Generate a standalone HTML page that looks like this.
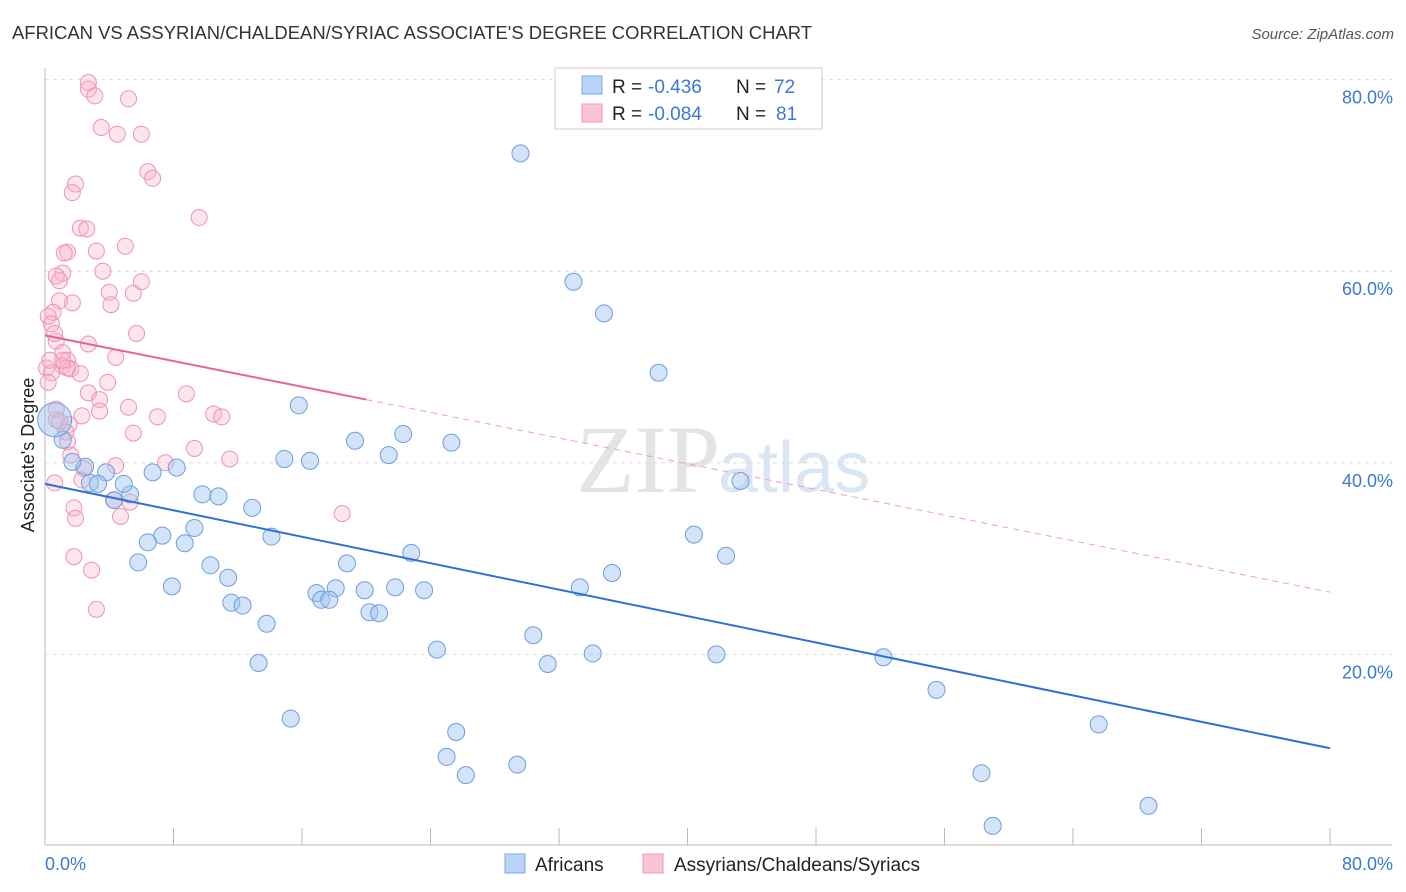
<!DOCTYPE html>
<html><head><meta charset="utf-8">
<style>
body{margin:0;background:#fff;font-family:"Liberation Sans",sans-serif;}
svg{display:block}
</style></head>
<body>
<svg id="chart" width="1406" height="892">
<text x="12" y="39" font-size="18" fill="#333" textLength="800" lengthAdjust="spacingAndGlyphs">AFRICAN VS ASSYRIAN/CHALDEAN/SYRIAC ASSOCIATE'S DEGREE CORRELATION CHART</text>
<text x="1394" y="39" font-size="15" fill="#555" font-style="italic" text-anchor="end">Source: ZipAtlas.com</text>
<text x="720" y="492" font-size="96" fill="#e4e4e4" text-anchor="end" font-family="Liberation Serif">ZIP</text>
<text x="718" y="492" font-size="72" fill="#dbe6f5">atlas</text>
<text transform="translate(34,455) rotate(-90)" font-size="18" fill="#222" text-anchor="middle">Associate's Degree</text>
<g id="grid"></g><g id="axes"></g><g id="pink"></g><g id="blue"></g><g id="lines"></g>
<g>
<rect x="555" y="68" width="267" height="61" fill="#fff" stroke="#ccc"/>
<rect x="582" y="76" width="20" height="18" fill="#b8d3f5" stroke="#7aaae6"/>
<rect x="582" y="104" width="20" height="18" fill="#f9c4d4" stroke="#ee9ab5"/>
<text x="612" y="93" font-size="19" fill="#222">R =</text>
<text x="648" y="93" font-size="19" fill="#3a78d6">-0.436</text>
<text x="736" y="93" font-size="19" fill="#222">N =</text>
<text x="774" y="93" font-size="19" fill="#3a78d6">72</text>
<text x="612" y="120" font-size="19" fill="#222">R =</text>
<text x="648" y="120" font-size="19" fill="#3a78d6">-0.084</text>
<text x="736" y="120" font-size="19" fill="#222">N =</text>
<text x="776" y="120" font-size="19" fill="#3a78d6">81</text>
</g>
<g>
<rect x="505" y="854" width="20" height="19" fill="#b8d3f5" stroke="#7aaae6"/>
<text x="535" y="871" font-size="19" fill="#222">Africans</text>
<rect x="643" y="854" width="20" height="19" fill="#f9c4d4" stroke="#ee9ab5"/>
<text x="674" y="871" font-size="19" fill="#222">Assyrians/Chaldeans/Syriacs</text>
</g>
</svg>
<script>
const yTicks=[20,40,60,80];
const yTickLabels=["20.0%","40.0%","60.0%","80.0%"];
const xTicks=[0,8,16,24,32,40,48,56,64,72,80];
const xEndLabels=["0.0%","80.0%"];
const blueX=[29.6,32.9,34.8,38.2,15.8,43.3,19.3,22.3,25.3,21.4,14.9,16.5,8.2,6.7,9.8,10.8,12.9,4.3,5.3,2.8,4.9,3.8,2.5,1.1,1.2,9.3,7.3,6.4,8.7,14.1,5.8,10.3,11.4,7.9,18.8,22.8,40.4,42.4,35.3,33.3,21.8,23.6,18.1,19.9,16.9,17.2,17.7,11.6,12.3,20.2,20.8,13.8,30.4,24.4,34.1,31.3,41.8,13.3,52.2,55.5,15.3,25.6,65.6,25.0,26.2,29.4,58.3,68.7,59.0,3.3,1.7];
const blueY=[72.3,58.9,55.6,49.4,46.0,38.1,42.3,43.0,42.1,40.8,40.4,40.2,39.5,39.0,36.7,36.5,35.3,36.1,36.7,37.9,37.8,39.0,39.6,42.4,41.1,33.2,32.4,31.7,31.6,32.3,29.6,29.3,28.0,27.1,29.5,30.6,32.5,30.3,28.5,27.0,27.0,26.7,26.9,26.7,26.4,25.7,25.7,25.4,25.1,24.4,24.3,23.2,22.0,20.5,20.1,19.0,20.0,19.1,19.7,16.3,13.3,11.9,12.7,9.3,7.4,8.5,7.6,4.2,2.1,37.8,40.1];
const pinkX=[2.7,2.7,3.1,5.2,3.5,4.5,6.0,6.4,6.7,1.9,1.7,9.6,2.2,2.6,3.2,5.0,1.4,1.2,3.6,1.1,0.7,0.9,6.0,4.0,5.5,4.1,1.7,0.9,0.5,0.2,0.4,5.7,0.7,2.7,1.1,4.4,1.4,0.1,1.1,1.6,0.4,2.2,0.2,3.9,2.7,8.8,3.4,5.2,3.4,7.0,10.5,11.0,2.3,1.5,0.7,1.4,5.5,9.3,1.6,11.5,4.4,7.5,2.4,0.6,2.3,4.3,5.3,4.7,1.8,1.9,18.5,1.8,2.9,3.2,0.7,1.3,0.9,1.4,1.1,0.6,0.3];
const pinkY=[79.7,79.0,78.3,78.0,75.0,74.3,74.3,70.4,69.7,69.1,68.2,65.6,64.5,64.4,62.1,62.6,62.0,61.9,60.0,59.8,59.5,59.0,58.9,57.8,57.7,56.5,56.7,56.9,55.7,55.3,54.5,53.5,52.7,52.4,51.5,51.0,50.7,49.9,50.1,49.8,49.4,49.3,48.4,48.4,47.3,47.2,46.6,45.8,45.4,44.8,45.1,44.8,44.9,44.0,44.5,42.2,43.1,41.5,40.8,40.4,39.7,40.0,39.4,37.9,38.2,36.1,35.9,34.4,35.3,34.2,34.7,30.2,28.8,24.7,45.6,43.2,44.3,49.9,50.7,53.5,50.7];
const blueTrend=[[0,37.8],[80,10.2]];
const pinkTrendSolid=[[0,53.3],[20,46.6]];
const pinkTrendDash=[[20,46.6],[80,26.5]];
const NS="http://www.w3.org/2000/svg";
const X=v=>45+v/80*1285;
const Y=v=>846-v*9.58;
function mk(tag,parent,attrs){const e=document.createElementNS(NS,tag);for(const k in attrs)e.setAttribute(k,attrs[k]);document.getElementById(parent).appendChild(e);return e;}
yTicks.forEach((t,i)=>{
 const l=mk('line','grid',{x1:45,x2:1392,y1:Y(t),y2:Y(t),stroke:'#ddd','stroke-dasharray':'4,4'});
 
 
 const tx=mk('text','axes',{x:1393,y:Y(t)+24,'font-size':18,fill:'#3a78d6','text-anchor':'end'});
 tx.textContent=yTickLabels[i];
 
 
});
const ax=mk('line','axes',{x1:45,x2:1392,y1:845,y2:845,stroke:'#bbb'});


const ay=mk('line','axes',{x1:45,x2:45,y1:68,y2:845,stroke:'#bbb'});


xTicks.forEach(t=>{
 const l=mk('line','axes',{x1:X(t),x2:X(t),y1:828,y2:845,stroke:'#bbb'});
 
 
});
const xl0=mk('text','axes',{x:45,y:870,'font-size':18,fill:'#3a78d6'});
xl0.textContent=xEndLabels[0];


const xl1=mk('text','axes',{x:1393,y:870,'font-size':18,fill:'#3a78d6','text-anchor':'end'});
xl1.textContent=xEndLabels[1];


pinkX.forEach((v,i)=>{
 const c=mk('circle','pink',{cx:X(v),cy:Y(pinkY[i]),r:8,fill:'rgba(248,180,200,0.35)',stroke:'#ee93b1','stroke-width':1});
 
 
});
blueX.forEach((v,i)=>{
 const c=mk('circle','blue',{cx:X(v),cy:Y(blueY[i]),r:(i===24?0:8.5),fill:'rgba(160,195,240,0.45)',stroke:'#6a9fe0','stroke-width':1});
 
 
});
const big=mk('circle','blue',{cx:X(0.6),cy:Y(44.5),r:17,fill:'rgba(160,195,240,0.5)',stroke:'#6a9fe0'});


const bl=mk('line','lines',{x1:X(blueTrend[0][0]),y1:Y(blueTrend[0][1]),x2:X(blueTrend[1][0]),y2:Y(blueTrend[1][1]),stroke:'#2f6fd6','stroke-width':2});


const pl=mk('line','lines',{x1:X(pinkTrendSolid[0][0]),y1:Y(pinkTrendSolid[0][1]),x2:X(pinkTrendSolid[1][0]),y2:Y(pinkTrendSolid[1][1]),stroke:'#e8648f','stroke-width':2});


const pd=mk('line','lines',{x1:X(pinkTrendDash[0][0]),y1:Y(pinkTrendDash[0][1]),x2:X(pinkTrendDash[1][0]),y2:Y(pinkTrendDash[1][1]),stroke:'#eea0b9','stroke-width':1,'stroke-dasharray':'6,5'});


</script>
</body></html>
